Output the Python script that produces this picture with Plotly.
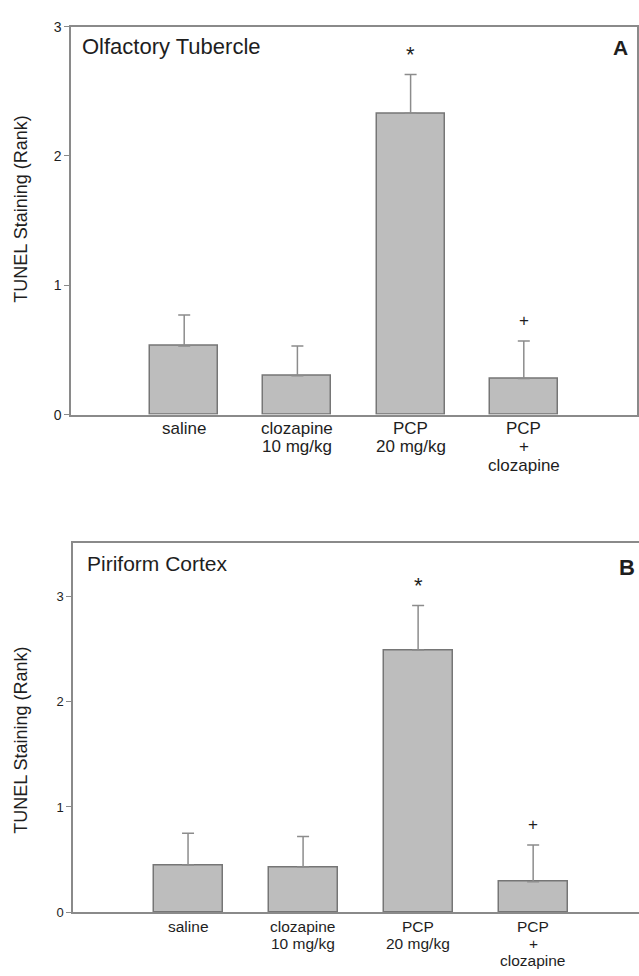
import plotly.graph_objects as go

categories = ["saline", "clozapine\n10 mg/kg", "PCP\n20 mg/kg", "PCP\n+\nclozapine"]
x_pos = [0, 1, 2, 3]

# Panel A - Olfactory Tubercle
ot_mean = [0.53, 0.30, 2.33, 0.28]
ot_sem = [0.24, 0.23, 0.30, 0.29]
ot_marks = ["", "", "*", "+"]

# Panel B - Piriform Cortex
pc_mean = [0.45, 0.43, 2.49, 0.29]
pc_sem = [0.30, 0.29, 0.42, 0.35]
pc_marks = ["", "", "*", "+"]

y_ticks = [0, 1, 2, 3]

W, H = 639, 976
FONT = "Liberation Sans, Arial, sans-serif"
BAR_FILL = "#bdbdbd"
BAR_LINE = "#767676"
AXIS = "#8a8a8a"
TXT = "#1e1e1e"

def px_x(p):
    return p / W

def px_y(p):
    return 1 - p / H

fig = go.Figure()

for mean, sem, xa, ya in [(ot_mean, ot_sem, "x", "y"), (pc_mean, pc_sem, "x2", "y2")]:
    fig.add_trace(go.Bar(
        x=x_pos, y=mean, width=0.6,
        marker=dict(color=BAR_FILL, line=dict(color=BAR_LINE, width=1.5)),
        error_y=dict(type="data", symmetric=False, array=sem, arrayminus=[0] * len(sem),
                     color="#8c8c8c", thickness=1.5, width=6),
        xaxis=xa, yaxis=ya, showlegend=False, hoverinfo="skip"))

common_x = dict(tickmode="array", tickvals=x_pos, showticklabels=False, ticks="",
                showgrid=False, zeroline=False, showline=True, linecolor=AXIS, linewidth=1.5,
                fixedrange=True)
common_y = dict(tickmode="array", tickvals=y_ticks, ticks="outside", ticklen=5, tickcolor=AXIS,
                showgrid=False, zeroline=False, showline=True, linecolor=AXIS, linewidth=1.5,
                fixedrange=True)

fig.update_layout(
    width=W, height=H, margin=dict(l=0, r=0, t=0, b=0),
    paper_bgcolor="white", plot_bgcolor="white", bargap=0,
    xaxis=dict(domain=[px_x(71), px_x(637)], range=[-1, 4], mirror=True, anchor="y", **common_x),
    yaxis=dict(domain=[px_y(413.4), px_y(19)], range=[0, 3], mirror=True, anchor="x",
               tickfont=dict(family=FONT, size=14, color=TXT), **common_y),
    xaxis2=dict(domain=[px_x(73), 1.0], range=[-1, 3.92], mirror=True, anchor="y2", **common_x),
    yaxis2=dict(domain=[px_y(919.5), px_y(544.3)], range=[0, 3.5], mirror=False, anchor="x2",
                tickfont=dict(family=FONT, size=13, color=TXT), **common_y),
)

ann = []
# panel titles and letters
ann.append(dict(text="Olfactory Tubercle", xref="paper", yref="paper", x=px_x(80), y=px_y(39),
                xanchor="left", yanchor="middle", showarrow=False,
                font=dict(family=FONT, size=22, color=TXT)))
ann.append(dict(text="<b>A</b>", xref="paper", yref="paper", x=px_x(620), y=px_y(40),
                xanchor="center", yanchor="middle", showarrow=False,
                font=dict(family=FONT, size=21, color=TXT)))
ann.append(dict(text="Piriform Cortex", xref="paper", yref="paper", x=px_x(85), y=px_y(565),
                xanchor="left", yanchor="middle", showarrow=False,
                font=dict(family=FONT, size=21, color=TXT)))
ann.append(dict(text="<b>B</b>", xref="paper", yref="paper", x=px_x(627), y=px_y(569),
                xanchor="center", yanchor="middle", showarrow=False,
                font=dict(family=FONT, size=22, color=TXT)))
# y axis titles
for yc in [205, 745]:
    ann.append(dict(text="TUNEL Staining (Rank)", xref="paper", yref="paper", x=px_x(21), y=px_y(yc),
                    xanchor="center", yanchor="middle", textangle=-90, showarrow=False,
                    font=dict(family=FONT, size=18, color=TXT)))
# category labels, one text per line, tight leading like the original
for xr, first_line, leading, fsize in [("x", 427, 19, 17), ("x2", 934, 17, 15.5)]:
    for xi, cat in zip(x_pos, categories):
        for k, line in enumerate(cat.split("\n")):
            ann.append(dict(text=line, xref=xr, yref="paper", x=xi, y=px_y(first_line + k * leading),
                            xanchor="center", yanchor="middle", showarrow=False, borderpad=0,
                            font=dict(family=FONT, size=fsize, color=TXT)))
# significance marks
for mean, sem, marks, xr, yr in [(ot_mean, ot_sem, ot_marks, "x", "y"), (pc_mean, pc_sem, pc_marks, "x2", "y2")]:
    for xi, m, s, mk in zip(x_pos, mean, sem, marks):
        if mk:
            ann.append(dict(text=mk, xref=xr, yref=yr, x=xi, y=m + s, yshift=20,
                            xanchor="center", yanchor="middle", showarrow=False,
                            font=dict(family=FONT, size=22 if mk == "*" else 17, color=TXT)))
fig.update_layout(annotations=ann)

fig.write_html("out.html", config={"displayModeBar": False},
               post_script="document.body.style.margin='0';document.body.style.overflow='hidden';")
